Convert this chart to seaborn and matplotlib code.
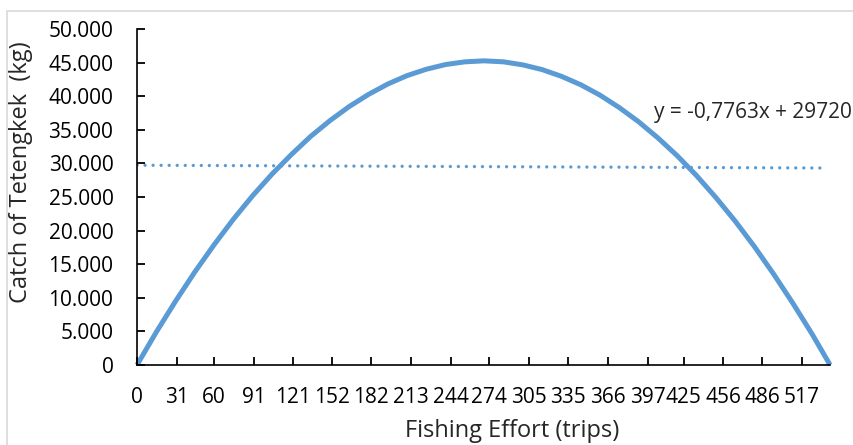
import numpy as np
import pandas as pd
import matplotlib
matplotlib.use("Agg")
import matplotlib.pyplot as plt
import matplotlib.ticker as mticker
from matplotlib.patches import Rectangle
import seaborn as sns

# ---------- data ----------
effort = [0, 15, 30, 45, 60, 75, 90, 105, 120, 135, 150, 165, 180, 195, 210,
          225, 240, 255, 270, 285, 300, 315, 330, 345, 360, 375, 390, 405,
          420, 435, 450, 465, 480, 495, 510, 525, 539]
catch = [0, 4900, 9500, 13850, 17900, 21700, 25200, 28400, 31300, 34000,
         36350, 38450, 40250, 41800, 43050, 44000, 44700, 45100, 45250,
         45100, 44650, 43950, 42950, 41700, 40150, 38300, 36200, 33800,
         31150, 28200, 24950, 21450, 17650, 13550, 9200, 4600, 0]
tick_labels = [0, 31, 60, 91, 121, 152, 182, 213, 244, 274, 305, 335, 366,
               397, 425, 456, 486, 517]

# linear trend shown on the chart (x = point index)
slope = -0.7763
intercept = 29720
trend_end = 536

blue = "#5B9BD5"

sns.set_style("white")
plt.rcParams['font.family'] = ['Open Sans', 'DejaVu Sans']

df = pd.DataFrame({'effort': effort, 'catch': catch})
trend_x = np.arange(0, trend_end + 1)
trend = pd.DataFrame({'effort': trend_x, 'catch': slope * (trend_x + 1) + intercept})

fig = plt.figure(figsize=(8.531, 4.451), dpi=100)
ax = fig.add_axes([137 / 853, 1 - 365 / 445, 693 / 853, 336 / 445])

# chart border (cropped on the right / bottom)
fig.patches.append(Rectangle((7 / 853, -0.2), 1.5, 1.2 - 11 / 445,
                             transform=fig.transFigure, fill=False,
                             edgecolor='#D9D9D9', linewidth=1.2, zorder=0))

sns.lineplot(data=trend, x='effort', y='catch', ax=ax, color=blue,
             linewidth=2.4, linestyle=(0, (0.01, 2.4)),
             dash_capstyle='round')
sns.lineplot(data=df, x='effort', y='catch', ax=ax, color=blue,
             linewidth=3.6, solid_capstyle='butt', solid_joinstyle='round',
             clip_on=False)

ax.set_xlim(0, 539)
ax.set_ylim(0, 50000)
ax.set_xticks(tick_labels)
ax.set_xticklabels([str(t) for t in tick_labels])
ax.yaxis.set_major_locator(mticker.MultipleLocator(5000))
ax.yaxis.set_major_formatter(mticker.FuncFormatter(
    lambda v, p: '{:,.0f}'.format(v).replace(',', '.')))

for s in ['top', 'right']:
    ax.spines[s].set_visible(False)
for s in ['left', 'bottom']:
    ax.spines[s].set_color('black')
    ax.spines[s].set_linewidth(1.2)

ax.tick_params(axis='both', which='major', direction='in', length=6,
               width=1.3, colors='black', labelsize=15,
               left=True, bottom=True)
ax.tick_params(axis='y', pad=17)
ax.tick_params(axis='x', pad=16)
ax.xaxis.set_zorder(3)
ax.yaxis.set_zorder(3)

ax.set_xlabel('Fishing Effort (trips)', fontsize=17)
ax.set_ylabel('Catch of Tetengkek  (kg)', fontsize=17)
ax.xaxis.set_label_coords(0.541, -0.16)
ax.yaxis.set_label_coords(-0.150, 0.574)

ax.text(402, 37600, 'y = -0,7763x + 29720', fontsize=15, ha='left',
        va='center', clip_on=False)

fig.savefig('out.png', dpi=100)
